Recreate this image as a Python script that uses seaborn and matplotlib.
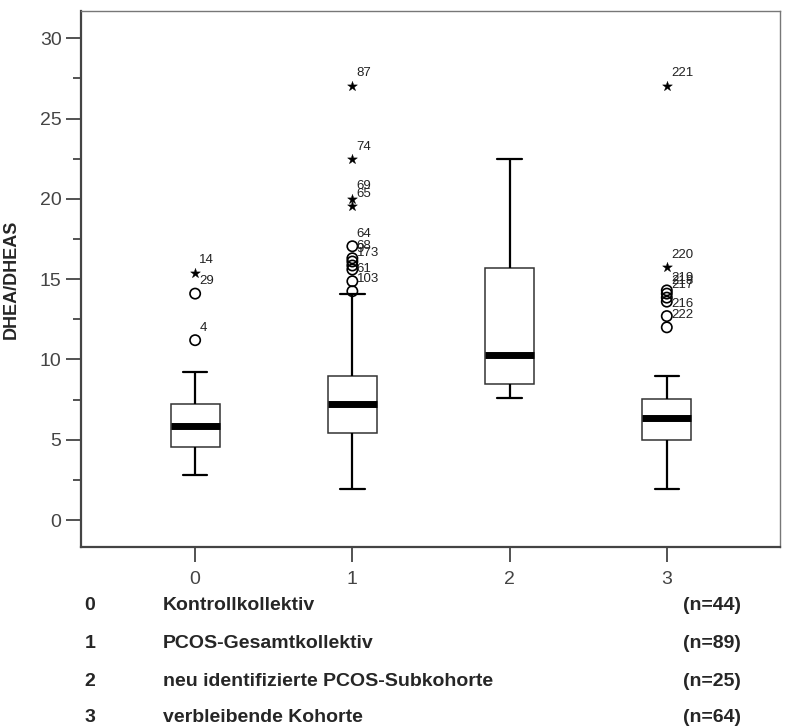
import matplotlib
matplotlib.use("Agg")
import matplotlib.pyplot as plt
import seaborn as sns
import pandas as pd
import numpy as np
from matplotlib.ticker import MultipleLocator

# ---- data ----
groups = ["0", "1", "2", "3"]
whisker_low = [2.8, 1.93, 7.59, 1.93]
q1 = [4.54, 5.41, 8.46, 4.98]
median = [5.85, 7.22, 10.27, 6.35]
q3 = [7.22, 8.96, 15.7, 7.53]
whisker_high = [9.2, 14.06, 22.46, 8.96]

# outliers: group, value, case label
circle_group = [0, 0, 1, 1, 1, 1, 1, 1, 1, 3, 3, 3, 3, 3, 3]
circle_value = [14.1, 11.2, 17.05, 16.3, 16.1, 15.85, 15.6, 14.87, 14.25,
                14.3, 14.1, 13.85, 13.6, 12.7, 12.0]
circle_label = ["29", "4", "64", "68", "9", "173", "", "61", "103",
                "219", "218", "217", "", "216", "222"]

star_group = [0, 1, 1, 1, 1, 3, 3]
star_value = [15.4, 27.05, 22.46, 20.0, 19.55, 27.05, 15.75]
star_label = ["14", "87", "74", "69", "65", "221", "220"]

legend_codes = ["0", "1", "2", "3"]
legend_names = ["Kontrollkollektiv", "PCOS-Gesamtkollektiv",
                "neu identifizierte PCOS-Subkohorte", "verbleibende Kohorte"]
legend_n = ["(n=44)", "(n=89)", "(n=25)", "(n=64)"]

# ---- build long-form table of five-number summaries ----
rows = []
for i, g in enumerate(groups):
    for v in (whisker_low[i], q1[i], median[i], q3[i], whisker_high[i]):
        rows.append({"group": g, "value": v})
df = pd.DataFrame(rows)

circ = pd.DataFrame({"x": circle_group, "y": circle_value})
star = pd.DataFrame({"x": star_group, "y": star_value})

sns.set_style("white")
plt.rcParams["font.family"] = ["Liberation Sans", "DejaVu Sans"]

W, H = 786, 726
fig = plt.figure(figsize=(W / 100, H / 100), dpi=100)
ax = fig.add_axes([81 / W, 1 - 547 / H, (780 - 81) / W, (547 - 11) / H])

sns.boxplot(data=df, x="group", y="value", order=groups, whis=(0, 100),
            width=0.31, color="white", linecolor="black", linewidth=1.1,
            showfliers=False, ax=ax,
            boxprops=dict(edgecolor="#333333", linewidth=1.1),
            whiskerprops=dict(color="black", linewidth=1.6),
            capprops=dict(color="black", linewidth=1.6),
            medianprops=dict(color="black", linewidth=5, solid_capstyle="butt"))

sns.scatterplot(data=circ, x="x", y="y", marker="o", s=55, facecolor="none",
                edgecolor="black", linewidth=1.2, ax=ax, zorder=3)
sns.scatterplot(data=star, x="x", y="y", marker="*", s=55, color="black",
                edgecolor="black", linewidth=0.3, ax=ax, zorder=3)

for gx, v, lab in zip(circle_group + star_group, circle_value + star_value,
                      circle_label + star_label):
    if lab:
        ax.annotate(lab, (gx, v), xytext=(3, 9), textcoords="offset points",
                    fontsize=9.5, color="#222222", ha="left", va="center")

ax.set_xlim(-0.726, 3.72)
ax.set_ylim(-1.68, 31.7)
ax.yaxis.set_major_locator(MultipleLocator(5))
ax.yaxis.set_minor_locator(MultipleLocator(2.5))
ax.set_xticks(range(4))
ax.set_xticklabels(groups)
ax.tick_params(axis="y", which="major", length=11, width=1.3, color="#444444",
               labelsize=14, labelcolor="#444444", left=True, pad=3)
ax.tick_params(axis="y", which="minor", length=5.5, width=1.3, color="#444444", left=True)
ax.tick_params(axis="x", which="major", length=11, width=1.3, color="#444444",
               labelsize=14, labelcolor="#444444", bottom=True, pad=6)
ax.set_xlabel("")
ax.set_ylabel("DHEA/DHEAS", fontsize=13, fontweight="bold")
ax.yaxis.set_label_coords((20 - 81) / 699, 0.5)

for side in ("left", "bottom"):
    ax.spines[side].set_color("#444444")
    ax.spines[side].set_linewidth(1.6)
for side in ("top", "right"):
    ax.spines[side].set_color("#777777")
    ax.spines[side].set_linewidth(1.0)

ys = [606, 643, 681, 718]
for code, name, n, y in zip(legend_codes, legend_names, legend_n, ys):
    fy = 1 - y / H
    fig.text(90 / W, fy, code, fontsize=14, fontweight="bold", ha="center", va="center")
    fig.text(163 / W, fy, name, fontsize=14, fontweight="bold", ha="left", va="center")
    fig.text(683 / W, fy, n, fontsize=14, fontweight="bold", ha="left", va="center")

fig.savefig("out.png", dpi=100, facecolor="white")
